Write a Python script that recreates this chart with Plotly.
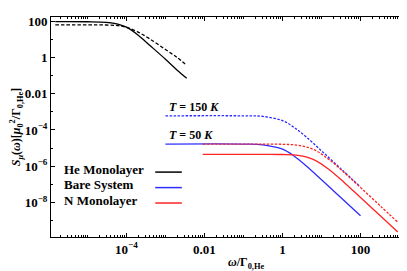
import plotly.graph_objects as go

# ---- data ----
he_w = [1.5e-6, 1e-5, 3e-5, 6e-5, 1e-4, 2e-4, 4e-4, 1e-3, 2e-3, 3.5e-3]
he_t50 = [95, 94, 87, 70, 47, 17, 4.6, 0.8, 0.2, 0.072]
he_t150 = [63, 63, 62, 57, 46, 25, 10.5, 2.75, 1.0, 0.36]

bare_w = [1e-3, 0.1, 0.316, 1, 2, 4, 10, 31.6, 100]
bare_t150 = [6.0e-4, 6.0e-4, 5.56e-4, 3.26e-4, 1.37e-4, 4.2e-5, 7.0e-6, 7.1e-7, 7.1e-8]
bare_t50 = [1.66e-5, 1.66e-5, 1.52e-5, 8.7e-6, 3.58e-6, 1.07e-6, 1.8e-7, 1.82e-8, 1.82e-9]

n_w = [0.009, 0.316, 1, 2.5, 6.3, 15.8, 39.8, 100, 316, 900]
n_t150 = [1.66e-5, 1.66e-5, 1.62e-5, 1.43e-5, 8.3e-6, 2.27e-6, 4.07e-7, 6.6e-8, 6.6e-9, 8.1e-10]
n_t50 = [4.52e-6, 4.52e-6, 4.42e-6, 3.93e-6, 2.31e-6, 6.43e-7, 1.16e-7, 1.87e-8, 1.9e-9, 2.34e-10]

x_tickvals = [1e-4, 1e-2, 1, 100]
x_ticktext = ["10<sup>\u22124</sup>", "0.01", "1", "100"]
y_tickvals = [100, 1, 1e-2, 1e-4, 1e-6, 1e-8]
y_ticktext = ["100", "1", "0.01", "10<sup>\u22124</sup>", "10<sup>\u22126</sup>", "10<sup>\u22128</sup>"]

legend_names = ["He Monolayer", "Bare System", "N Monolayer"]
BLACK = "black"
BLUE = "rgb(45,45,255)"
RED = "rgb(255,35,35)"
legend_colors = [BLACK, BLUE, RED]

FONT = "Liberation Serif"

fig = go.Figure()
lw = 1.3
fig.add_trace(go.Scatter(x=he_w, y=he_t50, mode="lines", line=dict(color=BLACK, width=lw, shape="spline")))
fig.add_trace(go.Scatter(x=he_w, y=he_t150, mode="lines", line=dict(color=BLACK, width=lw, dash="3.5px,2px", shape="spline")))
fig.add_trace(go.Scatter(x=bare_w, y=bare_t150, mode="lines", line=dict(color=BLUE, width=lw, dash="2.5px,1.5px", shape="spline")))
fig.add_trace(go.Scatter(x=bare_w, y=bare_t50, mode="lines", line=dict(color=BLUE, width=lw, shape="spline")))
fig.add_trace(go.Scatter(x=n_w, y=n_t150, mode="lines", line=dict(color=RED, width=lw, dash="2.5px,1.5px", shape="spline")))
fig.add_trace(go.Scatter(x=n_w, y=n_t50, mode="lines", line=dict(color=RED, width=lw, shape="spline")))

# minor ticks
minor_x = []
for e in range(-6, 4):
    for m in range(1, 10):
        v = m * 10.0 ** e
        if v not in x_tickvals:
            minor_x.append(v)
minor_y = [10.0 ** e for e in range(-10, 3) if 10.0 ** e not in y_tickvals]

axis_common = dict(
    type="log", showgrid=False, zeroline=False, showline=True, linecolor="black",
    linewidth=1, mirror="allticks", ticks="inside", ticklen=4, tickcolor="black",
    tickfont=dict(family=FONT, size=13, color="black", weight="bold"),
)

fig.update_xaxes(**axis_common, range=[-5.934, 3.114], tickvals=x_tickvals, ticktext=x_ticktext,
                 minor=dict(tickvals=minor_x, ticks="inside", ticklen=2, tickcolor="black"))
fig.update_yaxes(**axis_common, range=[-9.908, 2.234], tickvals=y_tickvals, ticktext=y_ticktext,
                 minor=dict(tickvals=minor_y, ticks="inside", ticklen=2, tickcolor="black"),
                 title=dict(text="<i>S</i><sub><i>\u03bc</i></sub>(<i>\u03c9</i>)[<i>\u03bc</i><sub>0</sub><sup>2</sup>/\u0393<sub>0,He</sub>]",
                            font=dict(family=FONT, size=12, color="black", weight="bold"), standoff=2))

# page has an 8px body margin: compensate so the plot lands where the reference has it
OFF = 8
W, H = 407, 271
left_s, right_s, top_s, bot_s = 45.7, 404.0, 14.0, 236.7  # on-screen plot box
L = left_s - OFF
T = top_s - OFF
R = W - (right_s - OFF)
B = H - (bot_s - OFF)
pw, ph = W - L - R, H - T - B


def px(sx):
    return (sx - OFF - L) / pw


def py(sy):
    return 1 - (sy - OFF - T) / ph


# x-axis title
fig.add_annotation(x=px(244), y=py(263), xref="paper", yref="paper",
                   text="<i>\u03c9</i>/\u0393<sub>0,He</sub>", showarrow=False, xanchor="center", yanchor="middle",
                   font=dict(family=FONT, size=12, color="black", weight="bold"))

# temperature labels
fig.add_annotation(x=-2.95, y=-3.22, xref="x", yref="y", text="<i>T</i> = 150 <i>K</i>", showarrow=False,
                   xanchor="left", yanchor="bottom", yshift=0, font=dict(family=FONT, size=12, color="black", weight="bold"))
fig.add_annotation(x=-2.95, y=-4.78, xref="x", yref="y", text="<i>T</i> = 50 <i>K</i>", showarrow=False,
                   xanchor="left", yanchor="bottom", yshift=0, font=dict(family=FONT, size=12, color="black", weight="bold"))

# custom legend (text left, line right)
leg_text_y = [168.3, 184.0, 199.5]
leg_line_y = [171.0, 186.7, 202.3]
for name, col, ty, ly in zip(legend_names, legend_colors, leg_text_y, leg_line_y):
    fig.add_annotation(x=px(56.5), y=py(ty), xref="paper", yref="paper", text=name,
                       showarrow=False, xanchor="left", yanchor="middle",
                       font=dict(family=FONT, size=13, color="black", weight="bold"))
    fig.add_shape(type="line", xref="paper", yref="paper", x0=px(151.5), x1=px(178.5),
                  y0=py(ly), y1=py(ly), line=dict(color=col, width=1.5))

fig.update_layout(width=W, height=H, margin=dict(l=L, r=R, t=T, b=B), showlegend=False,
                  plot_bgcolor="white", paper_bgcolor="white")

fig.write_html("out.html")
